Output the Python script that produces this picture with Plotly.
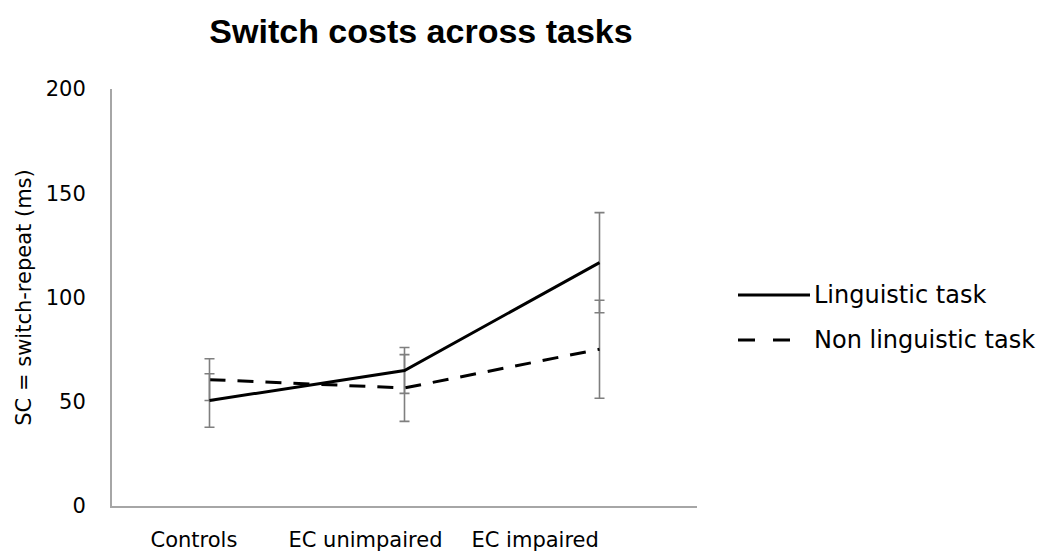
import plotly.graph_objects as go

categories = ["Controls", "EC unimpaired", "EC impaired"]
linguistic = [50.6, 65.0, 116.7]
linguistic_err = [12.8, 11.0, 24.0]
nonlinguistic = [60.6, 56.6, 75.2]
nonlinguistic_err = [10.0, 16.0, 23.5]
y_ticks = [0, 50, 100, 150, 200]
series_names = ["Linguistic task", "Non linguistic task"]

OFF = 8  # default page body margin
W, H = 1048 - OFF, 554 - OFF
# reference plot area in screen pixels: x 112..697, y 89..506
L = 112 - OFF
T = 89 - OFF
R = W - (697 - OFF)
B = H - (506 - OFF)
PW, PH = W - L - R, H - T - B

xs = list(range(len(categories)))

fig = go.Figure()
fig.add_trace(go.Scatter(
    x=xs, y=nonlinguistic, mode="lines", name=series_names[1],
    line=dict(color="black", width=3, dash="16px,12px"),
    error_y=dict(type="data", array=nonlinguistic_err, visible=True,
                 color="#7f7f7f", thickness=1.6, width=5),
    showlegend=False))
fig.add_trace(go.Scatter(
    x=xs, y=linguistic, mode="lines", name=series_names[0],
    line=dict(color="black", width=3),
    error_y=dict(type="data", array=linguistic_err, visible=True,
                 color="#7f7f7f", thickness=1.6, width=5),
    showlegend=False))

def px2x(px):
    return (px - OFF - L) / PW

def py2y(py):
    return (H - B - (py - OFF)) / PH

# manual legend (screen pixel positions from the reference)
legend_rows = [(295, "solid"), (340, "17px,18px")]
for (py, dash), name in zip(legend_rows, series_names):
    x1 = 810 if dash == "solid" else 791
    fig.add_shape(type="line", xref="paper", yref="paper",
                  x0=px2x(738), x1=px2x(x1), y0=py2y(py), y1=py2y(py),
                  line=dict(color="black", width=3, dash=dash))
    fig.add_annotation(xref="paper", yref="paper", x=px2x(812), y=py2y(py),
                       text=name, showarrow=False, xanchor="left", yanchor="middle",
                       font=dict(family="DejaVu Sans", size=24, color="black"))

label_offsets = [-0.08, -0.2, -0.33]
fig.update_layout(
    width=W, height=H,
    margin=dict(l=L, r=R, t=T, b=B, autoexpand=False),
    paper_bgcolor="white", plot_bgcolor="white",
    title=dict(text="<b>Switch costs across tasks</b>", x=(421 - OFF) / W, xanchor="center",
               y=1 - (31 - OFF) / H, yanchor="middle", yref="container",
               font=dict(family="Liberation Sans", size=34, color="black")),
    font=dict(family="DejaVu Sans", color="black"),
    xaxis=dict(range=[-0.5, 2.5], showgrid=False, zeroline=False, automargin=False,
               showline=True, linecolor="#a6a6a6", linewidth=2,
               tickvals=[x + o for x, o in zip(xs, label_offsets)], ticktext=categories,
               ticks="", ticklabelstandoff=14,
               tickfont=dict(family="DejaVu Sans", size=21, color="black")),
    yaxis=dict(range=[0, 200], tickvals=y_ticks, showgrid=False, zeroline=False, automargin=False,
               showline=True, linecolor="#a6a6a6", linewidth=2,
               ticks="", ticklabelstandoff=20,
               tickfont=dict(family="DejaVu Sans", size=21, color="black"),
               title=dict(text="SC = switch-repeat (ms)", standoff=8,
                          font=dict(family="DejaVu Sans", size=21, color="black"))),
)

fig.write_html("out.html")
